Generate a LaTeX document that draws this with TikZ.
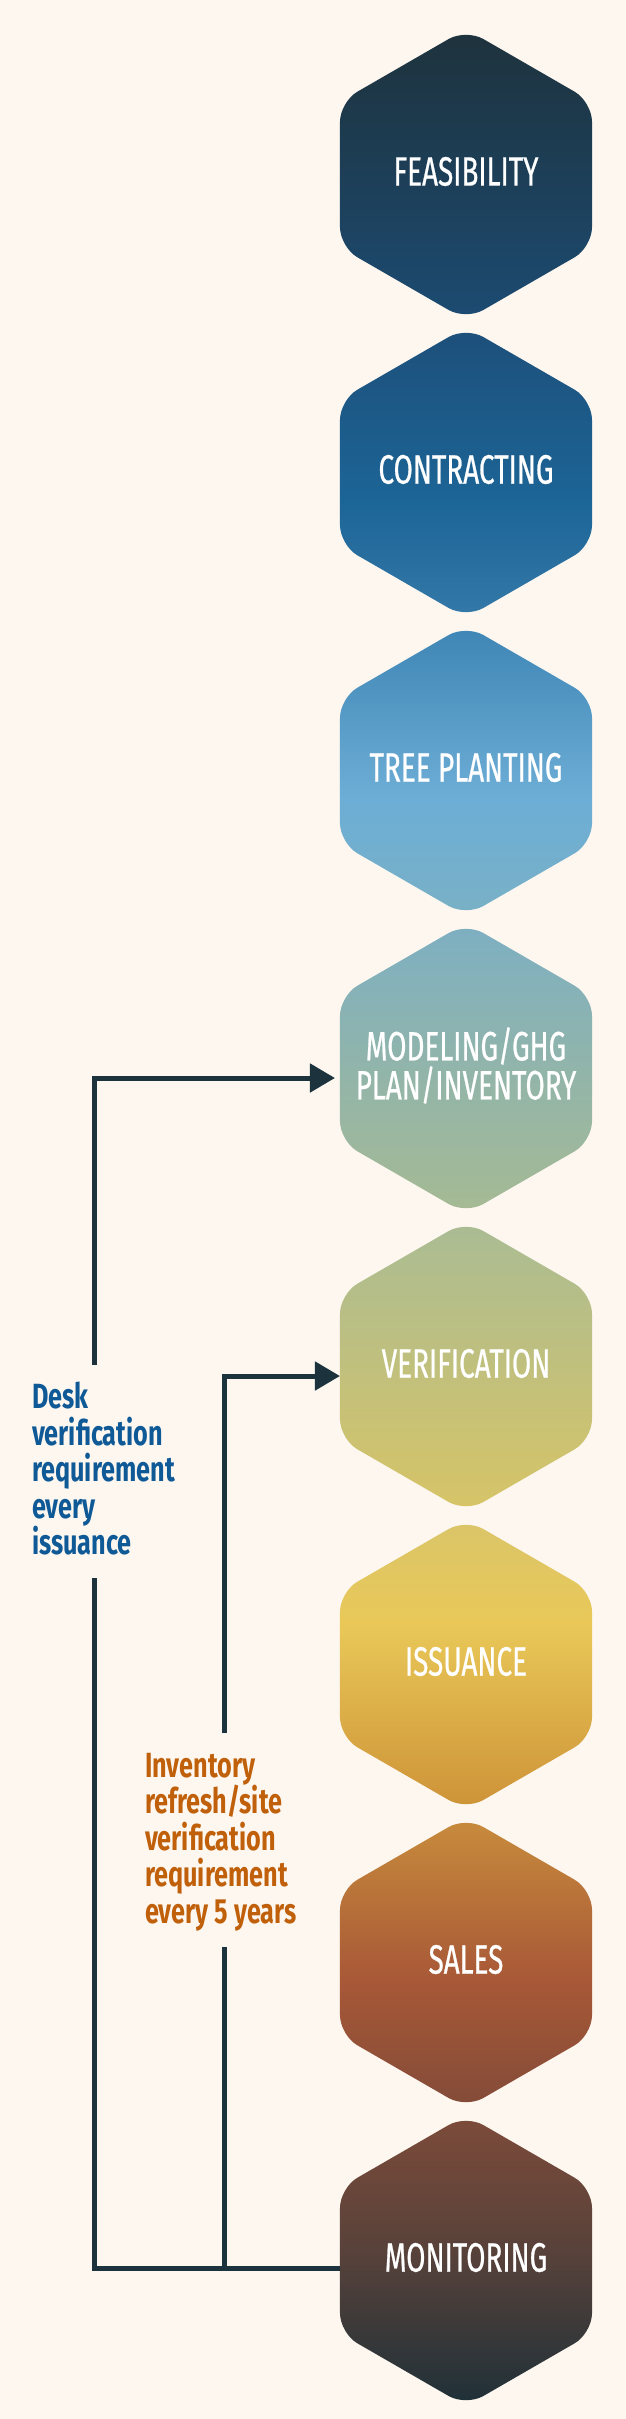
\documentclass[tikz,border=0pt]{standalone}
\usepackage{fontspec}
\usetikzlibrary{shapes.geometric,arrows.meta}
\newfontfamily\hexfont[FakeStretch=0.68,FakeBold=0.6]{Fira Sans}
\newfontfamily\notefont[FakeStretch=0.72]{Fira Sans}

\definecolor{bg}{RGB}{253,247,240}
\definecolor{ln}{RGB}{28,51,61}
\definecolor{deskc}{RGB}{15,90,150}
\definecolor{invc}{RGB}{192,96,10}

\definecolor{h1t}{RGB}{30,50,60}\definecolor{h1b}{RGB}{28,75,114}
\definecolor{h2t}{RGB}{29,79,122}\definecolor{h2m}{RGB}{28,101,151}\definecolor{h2b}{RGB}{52,121,168}
\definecolor{h3t}{RGB}{62,133,181}\definecolor{h3m}{RGB}{109,174,214}\definecolor{h3b}{RGB}{121,176,197}
\definecolor{h4t}{RGB}{125,175,194}\definecolor{h4b}{RGB}{166,186,147}
\definecolor{h5t}{RGB}{170,188,148}\definecolor{h5b}{RGB}{215,196,102}
\definecolor{h6t}{RGB}{218,197,105}\definecolor{h6m}{RGB}{233,200,88}\definecolor{h6b}{RGB}{205,146,55}
\definecolor{h7t}{RGB}{200,140,60}\definecolor{h7m}{RGB}{168,88,55}\definecolor{h7b}{RGB}{130,75,56}
\definecolor{h8t}{RGB}{125,75,58}\definecolor{h8m}{RGB}{85,65,58}\definecolor{h8b}{RGB}{30,48,56}

\pgfdeclareverticalshading{sh1}{100bp}{color(0bp)=(h1b); color(25bp)=(h1b); color(75bp)=(h1t); color(100bp)=(h1t)}
\pgfdeclareverticalshading{sh2}{100bp}{color(0bp)=(h2b); color(25bp)=(h2b); color(45bp)=(h2m); color(75bp)=(h2t); color(100bp)=(h2t)}
\pgfdeclareverticalshading{sh3}{100bp}{color(0bp)=(h3b); color(25bp)=(h3b); color(45bp)=(h3m); color(75bp)=(h3t); color(100bp)=(h3t)}
\pgfdeclareverticalshading{sh4}{100bp}{color(0bp)=(h4b); color(25bp)=(h4b); color(75bp)=(h4t); color(100bp)=(h4t)}
\pgfdeclareverticalshading{sh5}{100bp}{color(0bp)=(h5b); color(25bp)=(h5b); color(75bp)=(h5t); color(100bp)=(h5t)}
\pgfdeclareverticalshading{sh6}{100bp}{color(0bp)=(h6b); color(25bp)=(h6b); color(57bp)=(h6m); color(75bp)=(h6t); color(100bp)=(h6t)}
\pgfdeclareverticalshading{sh7}{100bp}{color(0bp)=(h7b); color(25bp)=(h7b); color(47bp)=(h7m); color(75bp)=(h7t); color(100bp)=(h7t)}
\pgfdeclareverticalshading{sh8}{100bp}{color(0bp)=(h8b); color(25bp)=(h8b); color(50bp)=(h8m); color(75bp)=(h8t); color(100bp)=(h8t)}

\tikzset{
  hexbox/.style={regular polygon, regular polygon sides=6, shape border rotate=30,
    minimum size=291pt, inner sep=0pt, outer sep=0pt, rounded corners=20pt},
  hexlabel/.style={inner sep=0pt, text=white, align=center,
    font=\hexfont\fontsize{41}{39}\selectfont},
  conn/.style={draw=ln, line width=5pt},
  arr/.style={conn, -{Triangle[length=25pt,width=28pt]}},
  note/.style={anchor=north west, inner sep=0pt, align=left,
    font=\notefont\bfseries\fontsize{35}{36.5}\selectfont}
}

\begin{document}
\begin{tikzpicture}[x=1pt,y=-1pt]
\useasboundingbox (0,0) rectangle (626,2419);
\fill[bg] (0,0) rectangle (626,2419);

\node[hexbox, shading=sh1] (feas) at (466,174.5) {};
\node[hexbox, shading=sh2] (cont) at (466,472.5) {};
\node[hexbox, shading=sh3] (tree) at (466,770.5) {};
\node[hexbox, shading=sh4] (mode) at (466,1068.5) {};
\node[hexbox, shading=sh5] (veri) at (466,1366.5) {};
\node[hexbox, shading=sh6] (issu) at (466,1664.5) {};
\node[hexbox, shading=sh7] (sale) at (466,1962.5) {};
\node[hexbox, shading=sh8] (moni) at (466,2260.5) {};

\node[hexlabel] (feasT) at ([yshift=3pt]feas) {FEASIBILITY};
\node[hexlabel] (contT) at ([yshift=3pt]cont) {CONTRACTING};
\node[hexlabel] (treeT) at ([yshift=3pt]tree) {TREE PLANTING};
\node[hexlabel] (modeT) at ([yshift=3pt]mode) {MODELING/GHG\\PLAN/INVENTORY};
\node[hexlabel] (veriT) at ([yshift=3pt]veri) {VERIFICATION};
\node[hexlabel] (issuT) at ([yshift=3pt]issu) {ISSUANCE};
\node[hexlabel] (saleT) at ([yshift=3pt]sale) {SALES};
\node[hexlabel] (moniT) at ([yshift=3pt]moni) {MONITORING};

\node[note, text=deskc] (desk) at (32,1382) {Desk\\verification\\requirement\\every\\issuance};
\node[note, text=invc] (inv) at (145,1753) {Inventory\\refresh/site\\verification\\requirement\\every 5 years};

\coordinate (mw) at ([yshift=-7.5pt]moni.west);
\coordinate (l1) at (94,1578);
\coordinate (l2) at (94,1365);
\coordinate (t4) at ([xshift=-5pt,yshift=-9.5pt]mode.west);
\coordinate (j)  at (224,2268);
\coordinate (m1) at (224,1947);
\coordinate (m2) at (224,1733);
\coordinate (t5) at ([yshift=-9.5pt]veri.west);

\draw[conn] (mw) -| (l1);
\draw[arr] (l2) |- (t4);
\draw[conn] (j) -- (m1);
\draw[arr] (m2) |- (t5);
\end{tikzpicture}
\end{document}
